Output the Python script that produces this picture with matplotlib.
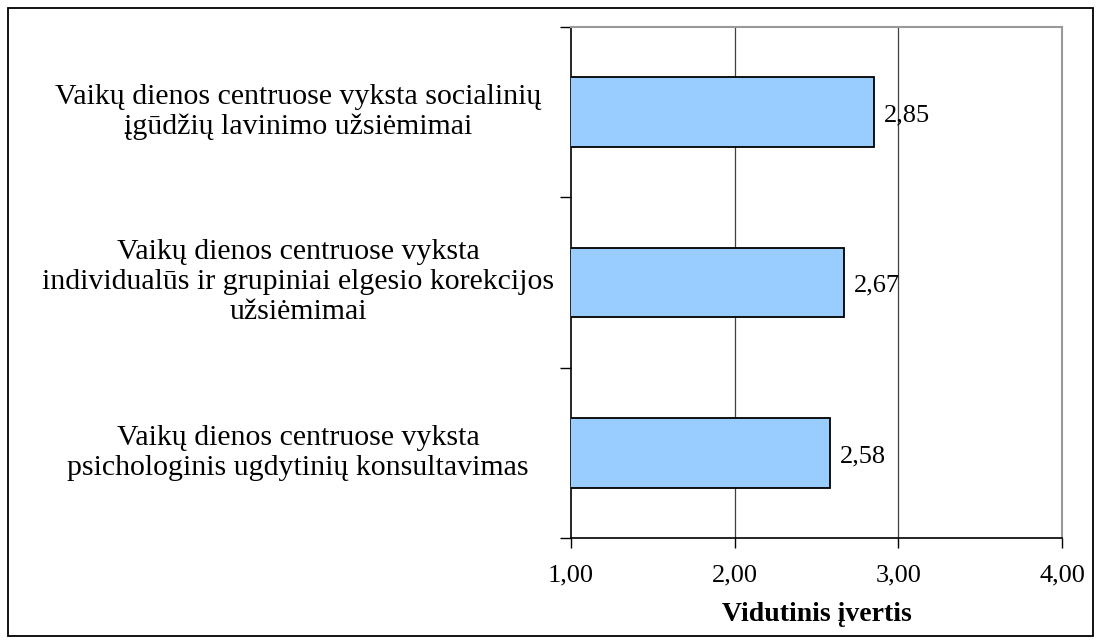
import matplotlib
matplotlib.use("Agg")
import matplotlib.pyplot as plt
from matplotlib.patches import Rectangle
from matplotlib.transforms import blended_transform_factory

# Duomenys (iš viršaus į apačią)
kategorijos = [
    "Vaikų dienos centruose vyksta socialinių\nįgūdžių lavinimo užsiėmimai",
    "Vaikų dienos centruose vyksta\nindividualūs ir grupiniai elgesio korekcijos\nužsiėmimai",
    "Vaikų dienos centruose vyksta\npsichologinis ugdytinių konsultavimas",
]
vidurkiai = [2.85, 2.67, 2.58]
x_ticks = [1, 2, 3, 4]
x_tick_labels = ["1,00", "2,00", "3,00", "4,00"]

plt.rcParams['font.family'] = ['Liberation Serif', 'DejaVu Serif']

fig = plt.figure(figsize=(11.01, 6.44), dpi=100)
ax = fig.add_axes([0.5186, 0.1646, 0.446, 0.7935])

pozicijos = list(range(len(kategorijos)))
ax.barh(pozicijos, vidurkiai, height=0.41, color='#99CCFF',
        edgecolor='black', linewidth=1.3, zorder=3)
ax.set_ylim(len(kategorijos) - 0.5, -0.5)
ax.set_xlim(1, 4)

# vertikalios tinklelio linijos
for x in x_ticks[1:3]:
    ax.axvline(x, color='#404040', linewidth=0.9, zorder=1)

# reikšmių etiketės
for y, v in zip(pozicijos, vidurkiai):
    ax.text(v + 0.06, y + 0.02, f"{v:.2f}".replace('.', ','), va='center',
            ha='left', fontsize=19, zorder=4)

# kategorijų pavadinimai
trans = blended_transform_factory(fig.transFigure, ax.transData)
for y, txt in zip(pozicijos, kategorijos):
    ax.text(298 / 1101, y, txt, transform=trans, ha='center', va='center',
            multialignment='center', fontsize=21.5, linespacing=1.2)

ax.set_yticks([])
ax.set_yticks([p - 0.5 for p in pozicijos] + [len(kategorijos) - 0.5], minor=True)
ax.tick_params(axis='y', which='minor', length=8, width=1, direction='out')
ax.set_xticks(x_ticks)
ax.set_xticklabels(x_tick_labels, fontsize=19)
ax.tick_params(axis='x', length=7, width=1, direction='out', pad=12)
ax.set_xlabel("Vidutinis įvertis", fontsize=20, fontweight='bold', labelpad=11)

for s in ['left', 'bottom']:
    ax.spines[s].set_color('black')
    ax.spines[s].set_linewidth(1.2)
for s in ['top', 'right']:
    ax.spines[s].set_color('#999999')
    ax.spines[s].set_linewidth(1.5)

# rėmelis aplink visą paveikslą
fig.patches.append(Rectangle((8 / 1101, 8 / 644), 1 - 16 / 1101, 1 - 16 / 644,
                             transform=fig.transFigure, fill=False,
                             edgecolor='black', linewidth=1.3))

fig.savefig("out.png", dpi=100)
